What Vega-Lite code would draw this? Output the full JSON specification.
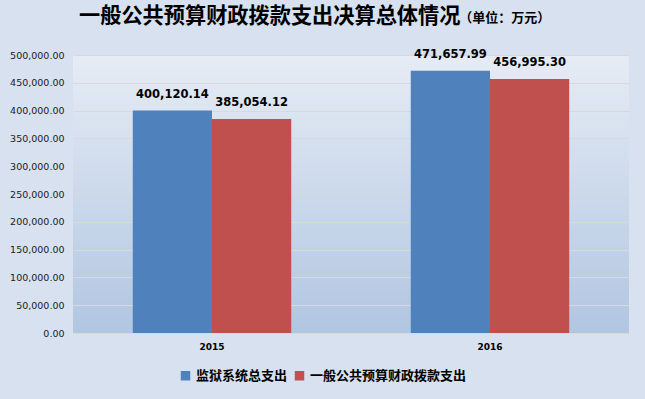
{
  "$schema": "https://vega.github.io/schema/vega-lite/v6.json",
  "width": 556,
  "height": 278,
  "autosize": {"type": "none"},
  "padding": {"left": 73, "top": 55, "right": 16, "bottom": 66},
  "background": "#D8E1EF",
  "title": {
    "text": "一般公共预算财政拨款支出决算总体情况",
    "subtitle": "\u200b\u3000\u3000\u3000\u3000\u3000\u3000\u3000\u3000\u3000\u3000\u3000\u3000\u3000\u3000\u3000\u3000\u3000\u3000\u3000\u3000\u3000\u3000\u3000\u3000\u3000\u3000\u3000\u3000\u3000\u2005（单位：万元）",
    "anchor": "start",
    "frame": "group",
    "dx": 6,
    "offset": 22,
    "font": "Noto Sans CJK SC",
    "fontSize": 21.2,
    "fontWeight": "bold",
    "color": "#000000",
    "subtitleFont": "Noto Sans CJK SC",
    "subtitleFontSize": 13,
    "subtitleFontWeight": "bold",
    "subtitleColor": "#000000",
    "subtitlePadding": -15
  },
  "data": {
    "values": [
      {"year": "2015", "series": "监狱系统总支出", "value": 400120.14},
      {"year": "2015", "series": "一般公共预算财政拨款支出", "value": 385054.12},
      {"year": "2016", "series": "监狱系统总支出", "value": 471657.99},
      {"year": "2016", "series": "一般公共预算财政拨款支出", "value": 456995.30}
    ]
  },
  "encoding": {
    "x": {
      "field": "year",
      "type": "nominal",
      "scale": {"paddingInner": 0.43, "paddingOuter": 0.215},
      "axis": {
        "title": null,
        "labelAngle": 0,
        "domain": false,
        "ticks": false,
        "labelPadding": 9,
        "labelFont": "DejaVu Sans",
        "labelFontSize": 9,
        "labelFontWeight": "bold",
        "labelColor": "#000000"
      }
    },
    "xOffset": {
      "field": "series",
      "type": "nominal",
      "sort": ["监狱系统总支出", "一般公共预算财政拨款支出"],
      "scale": {"paddingInner": 0, "paddingOuter": 0}
    },
    "y": {
      "field": "value",
      "type": "quantitative",
      "scale": {"domain": [0, 500000], "nice": false},
      "axis": {
        "title": null,
        "values": [0, 50000, 100000, 150000, 200000, 250000, 300000, 350000, 400000, 450000, 500000],
        "format": ",.2f",
        "domain": false,
        "ticks": false,
        "labelPadding": 9,
        "labelFont": "DejaVu Sans",
        "labelFontSize": 9.5,
        "labelColor": "#1a1a1a",
        "gridColor": "#D9D9D9",
        "gridWidth": 1
      }
    }
  },
  "layer": [
    {
      "mark": {"type": "bar"},
      "encoding": {
        "color": {
          "field": "series",
          "type": "nominal",
          "scale": {
            "domain": ["监狱系统总支出", "一般公共预算财政拨款支出"],
            "range": ["#4F81BD", "#C0504D"]
          },
          "legend": {
            "title": null,
            "orient": "none",
            "direction": "horizontal",
            "legendX": 106,
            "legendY": 314,
            "padding": 0,
            "symbolType": "square",
            "symbolSize": 90,
            "symbolStrokeWidth": 0,
            "labelFont": "Noto Sans CJK SC",
            "labelFontSize": 13,
            "labelFontWeight": "bold",
            "labelColor": "#000000",
            "labelOffset": 4,
            "columnPadding": 5
          }
        }
      }
    },
    {
      "mark": {
        "type": "text",
        "baseline": "alphabetic",
        "dy": -13,
        "font": "DejaVu Sans",
        "fontSize": 11.5,
        "fontWeight": "bold",
        "color": "#000000"
      },
      "encoding": {
        "text": {"field": "value", "type": "quantitative", "format": ",.2f"}
      }
    }
  ],
  "config": {
    "view": {
      "stroke": null,
      "fill": {
        "gradient": "linear",
        "x1": 0, "y1": 0, "x2": 0, "y2": 1,
        "stops": [
          {"offset": 0, "color": "#E6ECF5"},
          {"offset": 1, "color": "#B1C6E1"}
        ]
      }
    }
  }
}
